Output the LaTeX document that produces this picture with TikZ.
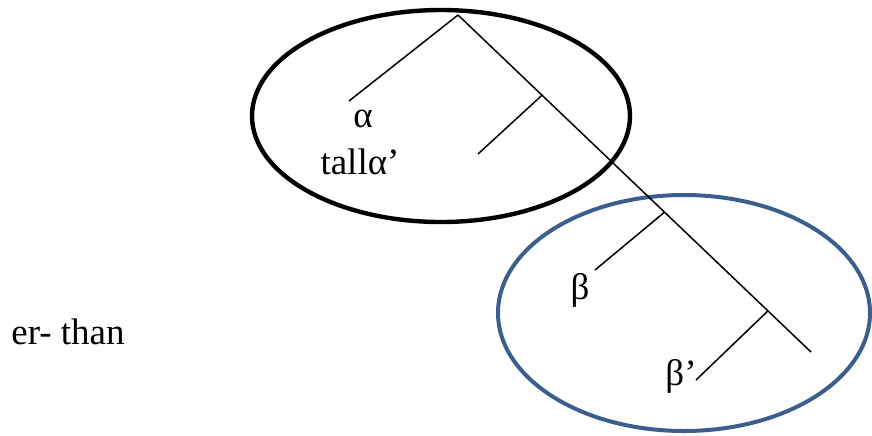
\documentclass[tikz,border=0pt]{standalone}
\usepackage{fontspec}
\setmainfont{Liberation Serif}
\usepackage{xcolor}
\usepackage{tikz}
\usetikzlibrary{positioning,calc}

\definecolor{setblue}{RGB}{58,95,140}

\begin{document}
\begin{tikzpicture}[
    x=0.5pt, y=-0.5pt,
    every node/.style={font=\fontsize{18.5}{21}\selectfont, inner sep=0pt},
    branch/.style={
        black,
        line width=0.75pt
    },
    label/.style={
        anchor=center
    }
]

\useasboundingbox (0,0) rectangle (872,435);

% ==========================================================
% TREE POINTS
% ==========================================================

\coordinate (root) at (458,15);
\coordinate (end) at (811,352);
\coordinate (nodeA) at ($(root)!0.238!(end)$);
\coordinate (nodeB) at ($(root)!0.585!(end)$);
\coordinate (nodeC) at ($(root)!0.878!(end)$);

\coordinate (leafAlpha) at (349,101);
\coordinate (leafA) at (478,154);
\coordinate (leafBeta) at (595,270);
\coordinate (leafBetaP) at (696,380);

% ==========================================================
% ELLIPSES
% ==========================================================

\draw[line width=2.2pt, black] (441,116) ellipse [x radius=189, y radius=106];
\draw[line width=2pt, setblue] (684,313) ellipse [x radius=186, y radius=118];

% ==========================================================
% BRANCHES
% ==========================================================

\draw[branch] (root) -- (end);
\draw[branch] (root) -- (leafAlpha);
\draw[branch] (nodeA) -- (leafA);
\draw[branch] (nodeB) -- (leafBeta);
\draw[branch] (nodeC) -- (leafBetaP);

% ==========================================================
% LABELS
% ==========================================================

\node[label] (alpha) at (363,119) {α};
\node[label] (tall) at (360,162) {tallα’};
\node[label] (beta) at (580,290) {β};
\node[label] (betap) at (681,376) {β’};
\node[label] (erthan) at (68,332) {er- than};

\end{tikzpicture}
\end{document}
